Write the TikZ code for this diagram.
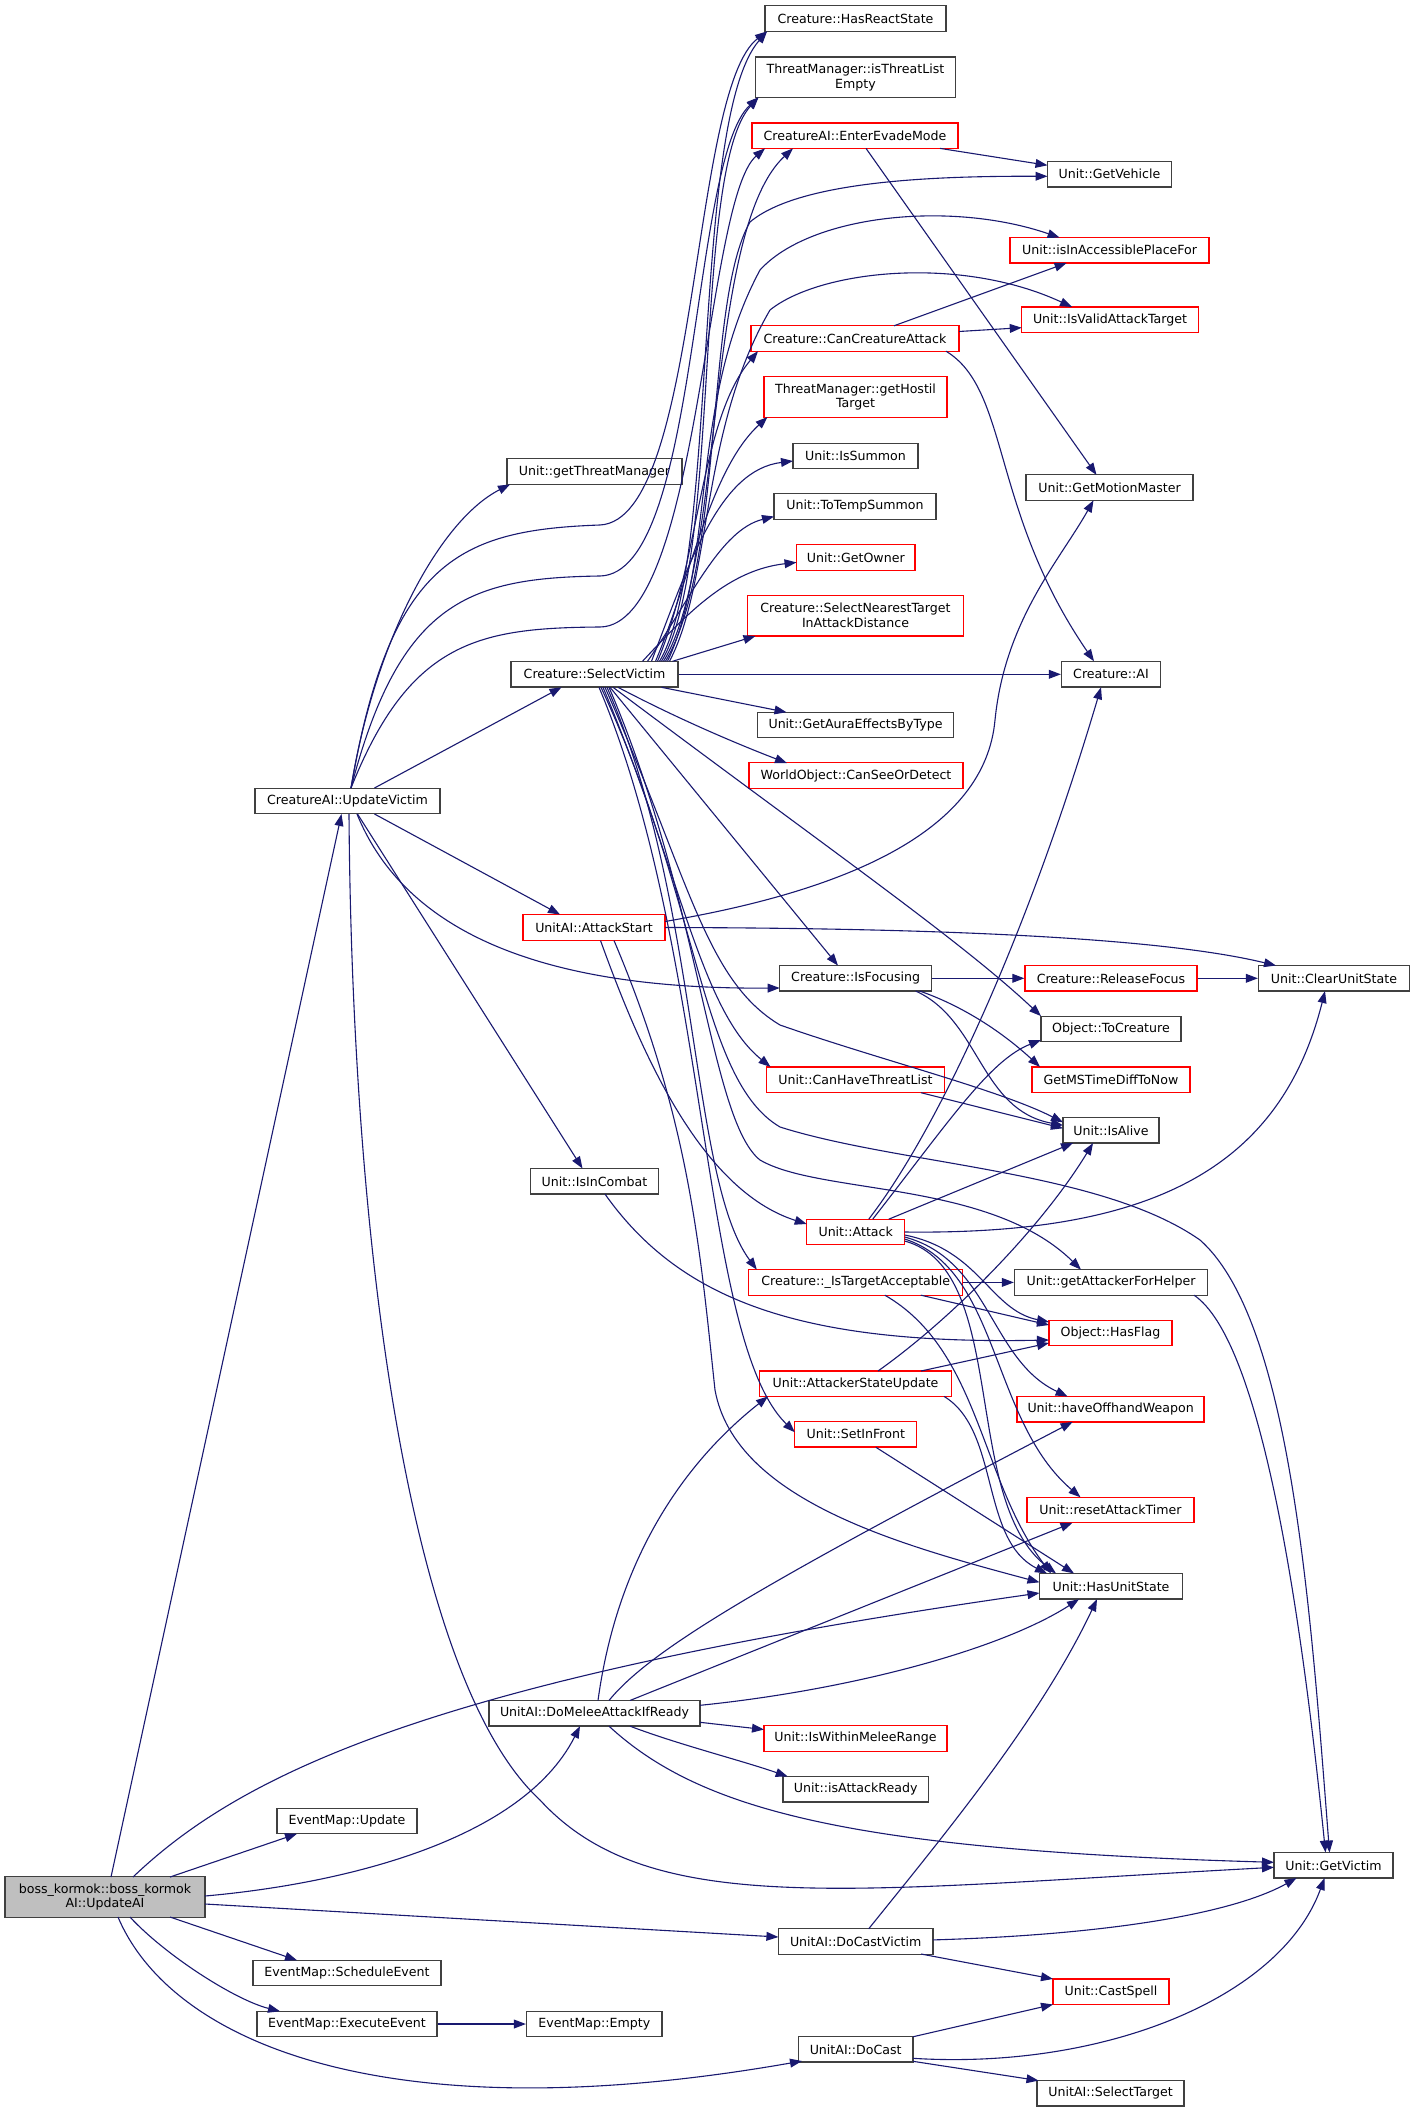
\documentclass[tikz,border=0pt]{standalone}
\usepackage{fontspec}
\setmainfont{DejaVu Sans}
\usetikzlibrary{arrows.meta,calc}
\definecolor{callblue}{HTML}{191970}
\definecolor{boxgray}{HTML}{404040}
\definecolor{rootgray}{HTML}{BFBFBF}

\begin{document}
\begin{tikzpicture}[>={Triangle[length=6pt,width=4.4pt]},x=0.5pt,y=-0.5pt,
    fn/.style={draw=boxgray,line width=0.65pt,fill=white,inner sep=1pt,minimum height=12.8pt,font=\fontsize{6.3}{7.45}\selectfont,align=center},
    fnred/.style={fn,draw=red},
    fnroot/.style={fn,fill=rootgray},
    call/.style={->,draw=callblue,line width=0.55pt}]
    \useasboundingbox (0,0) rectangle (1415,2112);
    \fill[white] (0,0) rectangle (1415,2112);

    \node[fnroot,minimum width=100pt,minimum height=20.2pt] (boss) at (105,1897) {boss\_kormok::boss\_kormok\\AI::UpdateAI};
    \node[fn,minimum width=92.5pt] (uv) at (347.5,801) {CreatureAI::UpdateVictim};
    \node[fn,minimum width=70pt] (emupd) at (347,1821) {EventMap::Update};
    \node[fn,minimum width=94pt] (emsched) at (347,1973) {EventMap::ScheduleEvent};
    \node[fn,minimum width=90pt] (emexec) at (347,2024) {EventMap::ExecuteEvent};
    \node[fn,minimum width=87.5pt] (gtm) at (594.5,471.6) {Unit::getThreatManager};
    \node[fn,minimum width=83.5pt] (sv) at (594.5,674.3) {Creature::SelectVictim};
    \node[fnred,minimum width=71pt] (as) at (594,927.5) {UnitAI::AttackStart};
    \node[fn,minimum width=64pt] (iic) at (594.5,1181.3) {Unit::IsInCombat};
    \node[fn,minimum width=105.5pt] (dmai) at (594.5,1713.3) {UnitAI::DoMeleeAttackIfReady};
    \node[fn,minimum width=67.75pt] (emempty) at (594.3,2024) {EventMap::Empty};
    \node[fn,minimum width=90.5pt] (hrs) at (855.5,18.6) {Creature::HasReactState};
    \node[fn,minimum width=100pt,minimum height=20.2pt] (itle) at (855.5,77.2) {ThreatManager::isThreatList\\Empty};
    \node[fnred,minimum width=103pt] (eem) at (855,135.7) {CreatureAI::EnterEvadeMode};
    \node[fnred,minimum width=104pt] (cca) at (855,338.5) {Creature::CanCreatureAttack};
    \node[fnred,minimum width=91.5pt,minimum height=20.2pt] (ght) at (855.5,397) {ThreatManager::getHostil\\Target};
    \node[fn,minimum width=62.5pt] (isum) at (855.5,456) {Unit::IsSummon};
    \node[fn,minimum width=81pt] (tts) at (855,506.5) {Unit::ToTempSummon};
    \node[fnred,minimum width=59.25pt] (gown) at (855.8,557.4) {Unit::GetOwner};
    \node[fnred,minimum width=108.25pt,minimum height=20.2pt] (snt) at (855.5,615.7) {Creature::SelectNearestTarget\\InAttackDistance};
    \node[fn,minimum width=98pt] (gaet) at (855.5,725) {Unit::GetAuraEffectsByType};
    \node[fnred,minimum width=107pt] (csod) at (856,775.6) {WorldObject::CanSeeOrDetect};
    \node[fn,minimum width=76pt] (ifoc) at (855.7,978.3) {Creature::IsFocusing};
    \node[fnred,minimum width=88.75pt] (chtl) at (855.5,1079.8) {Unit::CanHaveThreatList};
    \node[fnred,minimum width=49pt] (att) at (855.7,1232) {Unit::Attack};
    \node[fnred,minimum width=107pt] (ita) at (855.8,1282.4) {Creature::\_IsTargetAcceptable};
    \node[fnred,minimum width=96.25pt] (asu) at (855.5,1383.7) {Unit::AttackerStateUpdate};
    \node[fnred,minimum width=61pt] (sif) at (855.8,1434.2) {Unit::SetInFront};
    \node[fnred,minimum width=91.5pt] (iwmr) at (855.5,1738.5) {Unit::IsWithinMeleeRange};
    \node[fn,minimum width=72.75pt] (iar) at (855.7,1789.2) {Unit::isAttackReady};
    \node[fn,minimum width=77.3pt] (dcv) at (855.7,1941.4) {UnitAI::DoCastVictim};
    \node[fn,minimum width=57.25pt] (dc) at (855.7,2049.3) {UnitAI::DoCast};
    \node[fn,minimum width=62pt] (gveh) at (1109.5,174.3) {Unit::GetVehicle};
    \node[fnred,minimum width=99.5pt] (iiap) at (1109.6,250.3) {Unit::isInAccessiblePlaceFor};
    \node[fnred,minimum width=88.25pt] (ivat) at (1110,319.7) {Unit::IsValidAttackTarget};
    \node[fn,minimum width=83.5pt] (gmm) at (1109.5,487.6) {Unit::GetMotionMaster};
    \node[fn,minimum width=49.5pt] (cai) at (1111,674.3) {Creature::AI};
    \node[fnred,minimum width=86pt] (rfoc) at (1111,978.3) {Creature::ReleaseFocus};
    \node[fn,minimum width=70pt] (tocr) at (1111,1029) {Object::ToCreature};
    \node[fnred,minimum width=79pt] (gmst) at (1111,1079.8) {GetMSTimeDiffToNow};
    \node[fn,minimum width=48pt] (ialv) at (1111,1130.3) {Unit::IsAlive};
    \node[fn,minimum width=96.5pt] (gafh) at (1111,1282.4) {Unit::getAttackerForHelper};
    \node[fnred,minimum width=61.5pt] (hfl) at (1110.5,1333) {Object::HasFlag};
    \node[fnred,minimum width=93.5pt] (how) at (1110.6,1409.2) {Unit::haveOffhandWeapon};
    \node[fnred,minimum width=83.5pt] (rat) at (1110.5,1510) {Unit::resetAttackTimer};
    \node[fn,minimum width=71.5pt] (hus) at (1111,1586.3) {Unit::HasUnitState};
    \node[fnred,minimum width=58pt] (csp) at (1111,1991.7) {Unit::CastSpell};
    \node[fn,minimum width=73.5pt] (selt) at (1110.5,2093.3) {UnitAI::SelectTarget};
    \node[fn,minimum width=75.5pt] (cus) at (1334,978.3) {Unit::ClearUnitState};
    \node[fn,minimum width=59.5pt] (gvic) at (1333.5,1865.3) {Unit::GetVictim};

    \draw[call] ($(boss)+(6,-20)$) -- ($(uv)+(-6,13)$);
    \draw[call] ($(boss)+(28,-20)$) .. controls (240,1775) and (430,1680) .. ($(hus)+(-71.5,6.7)$);
    \draw[call] ($(boss)+(65,-20)$) -- ($(emupd)+(-50,12.75)$);
    \draw[call] ($(boss)+(100,-1)$) .. controls (330,1885) and (520,1845) .. ($(dmai)+(-14.5,12.85)$);
    \draw[call] ($(boss)+(65,20)$) -- ($(emsched)+(-50,-12.75)$);
    \draw[call] ($(boss)+(25,20)$) .. controls (165,1955) and (235,2000) .. ($(emexec)+(-67,-12.75)$);
    \draw[call] ($(boss)+(100,7)$) -- ($(dcv)+(-77.3,-4.4)$);
    \draw[call] ($(boss)+(13,20)$) .. controls (170,2040) and (380,2135) .. ($(dc)+(-53.7,11.7)$);

    \draw[call] ($(uv)+(3.5,-13)$) .. controls (375,640) and (440,520) .. ($(gtm)+(-84.5,12.85)$);
    \draw[call] ($(uv)+(3.5,-13)$) .. controls (390,560) and (460,530) .. (600,525) .. controls (700,520) and (690,90) .. ($(hrs)+(-88.5,12.85)$);
    \draw[call] ($(uv)+(3.5,-13)$) .. controls (400,600) and (470,578) .. (600,576) .. controls (700,574) and (690,160) .. ($(itle)+(-97,20.15)$);
    \draw[call] ($(uv)+(3.5,-13)$) .. controls (410,640) and (480,628) .. (600,627) .. controls (700,626) and (705,200) .. ($(eem)+(-90,12.7)$);
    \draw[call] ($(uv)+(27,-13)$) -- ($(sv)+(-33,13)$);
    \draw[call] ($(uv)+(27,13)$) -- ($(as)+(-34,-13)$);
    \draw[call] ($(uv)+(9.5,13)$) .. controls (400,920) and (520,990) .. ($(ifoc)+(-76,9.7)$);
    \draw[call] ($(uv)+(10,13)$) -- ($(iic)+(-12,-12.8)$);
    \draw[call] ($(uv)+(1.5,13)$) .. controls (352,1250) and (410,1680) .. (540,1800) .. controls (650,1920) and (850,1890) .. ($(gvic)+(-59.5,2)$);

    \draw[call] ($(as)+(71,-6)$) .. controls (850,890) and (985,830) .. (995,720) .. controls (1005,620) and (1060,560) .. ($(gmm)+(-16,12.7)$);
    \draw[call] ($(as)+(71,0)$) .. controls (900,928) and (1150,935) .. ($(cus)+(-58,-12.75)$);
    \draw[call] ($(as)+(6.5,13)$) .. controls (640,1050) and (700,1190) .. ($(att)+(-49,-8)$);
    \draw[call] ($(as)+(20,13)$) .. controls (690,1120) and (700,1250) .. (715,1390) .. controls (735,1500) and (900,1545) .. ($(hus)+(-71.5,-4)$);

    \draw[call] ($(sv)+(65,-13)$) .. controls (720,560) and (690,120) .. ($(hrs)+(-88.5,12.85)$);
    \draw[call] ($(sv)+(67,-13)$) .. controls (722,560) and (692,170) .. ($(itle)+(-97,20.15)$);
    \draw[call] ($(sv)+(69,-13)$) .. controls (725,560) and (705,230) .. ($(eem)+(-62,12.7)$);
    \draw[call] ($(sv)+(71,-13)$) .. controls (725,560) and (705,300) .. (750,222) .. controls (800,180) and (940,176) .. ($(gveh)+(-62,2)$);
    \draw[call] ($(sv)+(73,-13)$) .. controls (715,560) and (690,400) .. (760,270) .. controls (810,215) and (950,200) .. ($(iiap)+(-50,-12.7)$);
    \draw[call] ($(sv)+(75,-13)$) .. controls (712,580) and (700,430) .. (770,310) .. controls (820,270) and (960,255) .. ($(ivat)+(-38,-12.7)$);
    \draw[call] ($(sv)+(63,-13)$) .. controls (700,560) and (700,420) .. ($(cca)+(-97,12.7)$);
    \draw[call] ($(sv)+(61,-13)$) .. controls (690,580) and (710,470) .. ($(ght)+(-88,20)$);
    \draw[call] ($(sv)+(57,-13)$) .. controls (690,560) and (720,470) .. ($(isum)+(-62.5,5)$);
    \draw[call] ($(sv)+(53,-13)$) .. controls (690,600) and (720,530) .. ($(tts)+(-81,10)$);
    \draw[call] ($(sv)+(48,-13)$) .. controls (690,610) and (730,570) .. ($(gown)+(-59.25,5)$);
    \draw[call] ($(sv)+(78,-13)$) -- ($(snt)+(-100,20.3)$);
    \draw[call] (sv) -- (cai);
    \draw[call] ($(sv)+(67,13)$) -- ($(gaet)+(-69,-12.75)$);
    \draw[call] ($(sv)+(23.5,13)$) .. controls (680,720) and (740,745) .. ($(csod)+(-69,-12.5)$);
    \draw[call] ($(sv)+(15.5,13)$) -- ($(ifoc)+(-17.7,-12.75)$);
    \draw[call] ($(sv)+(18.5,13)$) .. controls (830,850) and (960,940) .. ($(tocr)+(-70,-12.9)$);
    \draw[call] ($(sv)+(8.5,13)$) .. controls (680,870) and (700,1010) .. ($(chtl)+(-85,-12.9)$);
    \draw[call] ($(sv)+(10.5,13)$) .. controls (690,880) and (705,980) .. (780,1025) .. controls (880,1060) and (1000,1090) .. ($(ialv)+(-48,-8)$);
    \draw[call] ($(sv)+(12.5,13)$) .. controls (700,900) and (690,1180) .. ($(ita)+(-99,-12.75)$);
    \draw[call] ($(sv)+(14.5,13)$) .. controls (700,900) and (710,1120) .. (760,1160) .. controls (820,1195) and (990,1180) .. ($(gafh)+(-30,-12.75)$);
    \draw[call] ($(sv)+(6.5,13)$) .. controls (700,900) and (700,1080) .. (780,1127) .. controls (900,1165) and (1100,1170) .. (1200,1240) .. controls (1290,1320) and (1310,1600) .. ($(gvic)+(-4,-12.75)$);
    \draw[call] ($(sv)+(4.5,13)$) .. controls (710,950) and (700,1340) .. ($(sif)+(-61,-2)$);

    \draw[call] (ifoc) -- (rfoc);
    \draw[call] ($(ifoc)+(60,12.75)$) .. controls (980,1020) and (980,1110) .. ($(ialv)+(-48,-5)$);
    \draw[call] ($(ifoc)+(64,12.75)$) .. controls (960,1005) and (1000,1030) .. ($(gmst)+(-71,-12.9)$);
    \draw[call] (rfoc) -- (cus);
    \draw[call] ($(chtl)+(65.5,12.9)$) -- ($(ialv)+(-48,-2)$);

    \draw[call] ($(att)+(13,-12.8)$) .. controls (930,1140) and (1020,960) .. ($(cai)+(-10,13)$);
    \draw[call] ($(att)+(17,-12.8)$) .. controls (950,1120) and (990,1060) .. ($(tocr)+(-70,11)$);
    \draw[call] ($(att)+(33,-12.8)$) -- ($(ialv)+(-38,12.75)$);
    \draw[call] ($(att)+(49,0)$) .. controls (1150,1235) and (1280,1170) .. ($(cus)+(-9,12.75)$);
    \draw[call] ($(att)+(49,3)$) .. controls (980,1250) and (990,1310) .. ($(hfl)+(-61.5,-11)$);
    \draw[call] ($(att)+(49,5)$) .. controls (990,1260) and (990,1360) .. ($(how)+(-43,-12.75)$);
    \draw[call] ($(att)+(49,7)$) .. controls (1000,1270) and (990,1420) .. ($(rat)+(-30,-12.75)$);
    \draw[call] ($(att)+(49,9)$) .. controls (1010,1270) and (960,1500) .. ($(hus)+(-55,-12.9)$);

    \draw[call] (ita) -- (gafh);
    \draw[call] ($(ita)+(65,12.75)$) -- ($(hfl)+(-61.5,-8)$);
    \draw[call] ($(ita)+(29,12.75)$) .. controls (980,1350) and (980,1480) .. ($(hus)+(-60,-12.9)$);
    \draw[call] ($(asu)+(22.5,-12.7)$) .. controls (950,1320) and (1040,1230) .. ($(ialv)+(-18,12.75)$);
    \draw[call] ($(asu)+(65.5,-12.7)$) -- ($(hfl)+(-61.5,10)$);
    \draw[call] ($(asu)+(88.5,12.7)$) .. controls (1000,1430) and (980,1540) .. ($(hus)+(-64,-12.9)$);
    \draw[call] ($(sif)+(20,13)$) -- ($(hus)+(-37,-12.9)$);
    \draw[call] ($(iic)+(10.5,12.8)$) .. controls (680,1300) and (800,1345) .. ($(hfl)+(-61.5,7)$);
    \draw[call] ($(gafh)+(83,12.75)$) .. controls (1260,1340) and (1300,1600) .. ($(gvic)+(-8,-12.75)$);

    \draw[call] ($(dmai)+(3.5,-12.85)$) .. controls (620,1540) and (700,1450) .. ($(asu)+(-87.5,12.7)$);
    \draw[call] ($(dmai)+(14.5,-12.85)$) .. controls (650,1650) and (760,1585) .. ($(how)+(-38,12.75)$);
    \draw[call] ($(dmai)+(35.5,-12.85)$) -- ($(rat)+(-38,12.75)$);
    \draw[call] ($(dmai)+(105.5,-8)$) .. controls (850,1690) and (1000,1650) .. ($(hus)+(-32,12.9)$);
    \draw[call] ($(dmai)+(105.5,9)$) -- ($(iwmr)+(-91.5,-9)$);
    \draw[call] ($(dmai)+(35.5,12.85)$) .. controls (680,1745) and (740,1760) .. ($(iar)+(-68,-12.75)$);
    \draw[call] ($(dmai)+(14.5,12.85)$) .. controls (700,1810) and (850,1850) .. ($(gvic)+(-59.5,-3)$);

    \draw[call] ($(dcv)+(13,-12.6)$) .. controls (940,1840) and (1040,1720) .. ($(hus)+(-14,12.9)$);
    \draw[call] ($(dcv)+(77.3,-1.5)$) .. controls (1100,1935) and (1230,1915) .. ($(gvic)+(-37,12.75)$);
    \draw[call] ($(dcv)+(65.3,12.6)$) -- ($(csp)+(-58,-12.75)$);
    \draw[call] ($(dc)+(57.3,-12.55)$) -- ($(csp)+(-58,12.75)$);
    \draw[call] ($(dc)+(57.3,9)$) .. controls (1100,2070) and (1280,2000) .. ($(gvic)+(-9,12.75)$);
    \draw[call] ($(dc)+(57.3,12)$) -- ($(selt)+(-72,-12.75)$);

    \draw[call] ($(eem)+(85,12.7)$) -- ($(gveh)+(-62,-9)$);
    \draw[call] ($(eem)+(11,12.7)$) -- ($(gmm)+(-13,-12.7)$);
    \draw[call] ($(cca)+(39,-12.7)$) -- ($(iiap)+(-43,12.7)$);
    \draw[call] ($(cca)+(104,-7)$) -- ($(ivat)+(-88.25,8)$);
    \draw[call] ($(cca)+(91,12.7)$) .. controls (1010,390) and (990,510) .. ($(cai)+(-17,-13)$);
    \draw[call] (emexec) -- (emempty);
\end{tikzpicture}
\end{document}
